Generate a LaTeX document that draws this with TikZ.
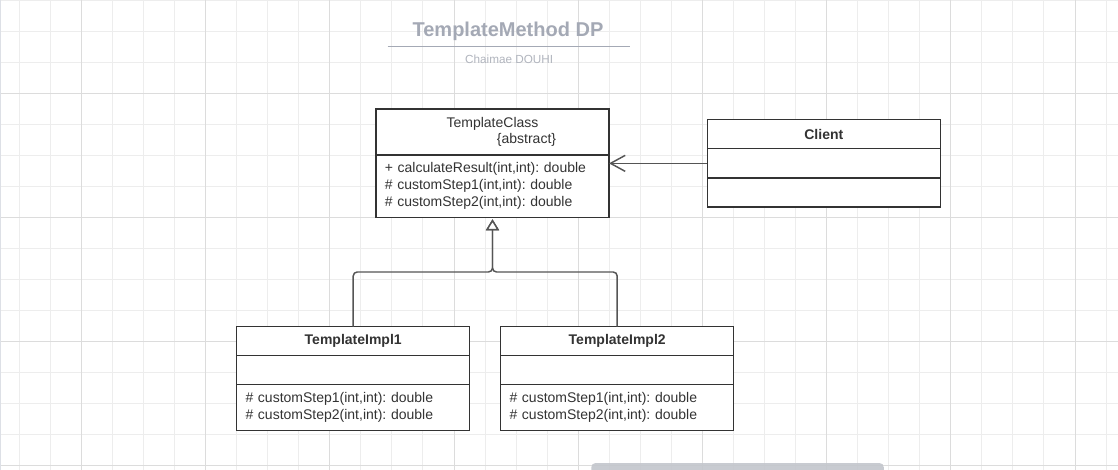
\documentclass[tikz,border=0pt]{standalone}
\usepackage{fontspec}
\setmainfont{Liberation Sans}
\usetikzlibrary{positioning,arrows.meta}
\definecolor{boxgray}{HTML}{333333}
\definecolor{txtgray}{HTML}{333333}
\definecolor{linegray}{HTML}{555555}
\definecolor{minorgrid}{HTML}{EDEDED}
\definecolor{majorgrid}{HTML}{DCDCDC}
\definecolor{titlegray}{HTML}{A4A9B5}
\definecolor{subgray}{HTML}{B1B5BE}
\definecolor{barx}{HTML}{C3C6CC}
\frenchspacing
\begin{document}
\begin{tikzpicture}[x=0.75pt,y=0.75pt,yscale=-1,
    classpart/.style={draw=boxgray, line width=1.1pt, fill=white, anchor=north west, minimum width=174.75pt, inner sep=0pt, outer sep=0pt, text=txtgray, font=\fontsize{10.5}{12.75}\selectfont},
    classhead/.style={classpart, font=\fontsize{10.5}{12.75}\selectfont\bfseries},
    classops/.style={classpart, align=left, text width=161.5pt, inner xsep=6.6pt},
    assoc/.style={draw=linegray, line width=1.1pt, -{Straight Barb[length=11pt,width=12pt,line width=1.1pt]}},
    generalize/.style={draw=linegray, line width=1.1pt, rounded corners=3pt, shorten >=1.2pt, -{Triangle[open,fill=white,length=8.25pt,width=9.75pt,line width=1.1pt]}}]
        \useasboundingbox (0,0) rectangle (1118,470);
        \fill [white] (0,0) rectangle (1118,470);
        \foreach \k in {0,...,35} \draw [minorgrid, line width=0.75pt] ({19.3+31.05*\k},0) -- ({19.3+31.05*\k},470);
        \foreach \k in {0,...,15} \draw [minorgrid, line width=0.75pt] (0,{0.2+31.05*\k}) -- (1118,{0.2+31.05*\k});
        \foreach \k in {0,...,8} \draw [majorgrid, line width=0.75pt] ({81.4+124.2*\k},0) -- ({81.4+124.2*\k},470);
        \foreach \k in {0,...,3} \draw [majorgrid, line width=0.75pt] (0,{93.3+124.2*\k}) -- (1118,{93.3+124.2*\k});
        \draw [color={rgb,255:red,221;green,224;blue,230}, line width=0.75pt] (0.5,0) -- (0.5,470);

        \node [text=titlegray, font=\fontsize{15}{18}\selectfont\bfseries] (title) at (508,31.7) {TemplateMethod DP};
        \draw [titlegray, line width=1.1pt] (387.7,46.7) -- (630,46.7);
        \node [text=subgray, font=\fontsize{8.8}{10}\selectfont] (author) at (509.2,59.3) {Chaimae DOUHI};

        \node [classpart, minimum height=34.5pt, align=center, font=\fontsize{10.5}{12.5}\selectfont] (tchead) at (376,109) {TemplateClass\\\hspace*{51pt}\{abstract\}};
        \node [classops, minimum height=47pt, below=0pt of tchead] (tcops) {+ calculateResult(int,int): double\\\# customStep1(int,int): double\\\# customStep2(int,int): double};

        \node [classhead, minimum height=21.75pt] (clhead) at (707.3,119.7) {Client};
        \node [classpart, minimum height=22pt, below=0pt of clhead] (clattr) {};
        \node [classpart, minimum height=21.75pt, below=0pt of clattr] (clops) {};

        \node [classhead, minimum height=21.75pt] (tiahead) at (236.7,326.7) {TemplateImpl1};
        \node [classpart, minimum height=21.75pt, below=0pt of tiahead] (tiaattr) {};
        \node [classops, minimum height=34.2pt, below=0pt of tiaattr] (tiaops) {\# customStep1(int,int): double\\\# customStep2(int,int): double};

        \node [classhead, minimum height=21.75pt] (tibhead) at (500.7,326.7) {TemplateImpl2};
        \node [classpart, minimum height=21.75pt, below=0pt of tibhead] (tibattr) {};
        \node [classops, minimum height=34.2pt, below=0pt of tibattr] (tibops) {\# customStep1(int,int): double\\\# customStep2(int,int): double};

        \coordinate (join) at (tcops.south |- 0,272);
        \draw [assoc] (clattr.west) -- (tcops.east |- clattr.west);
        \draw [generalize] (tiahead.north) |- (join) -- (tcops.south);
        \draw [generalize] (tibhead.north) |- (join) -- (tcops.south);

        \fill [barx, opacity=0.9, rounded corners=3.2pt] (591.3,463) rectangle (883.8,474);
\end{tikzpicture}
\end{document}
